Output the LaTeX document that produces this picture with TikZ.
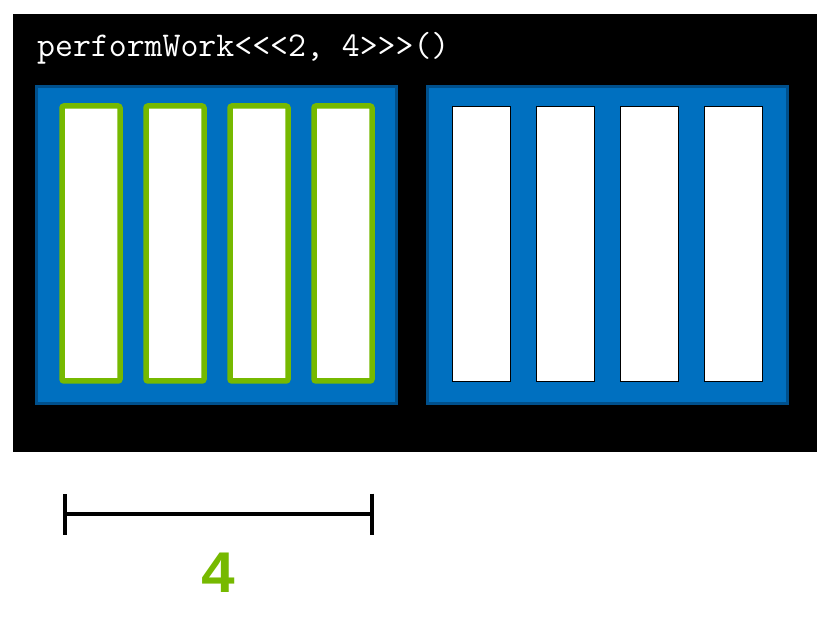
\documentclass[tikz,border=0pt]{standalone}
\usepackage{fontspec}
\newfontfamily\codefont{Liberation Mono}
\usetikzlibrary{arrows.meta, positioning}

\definecolor{gpublue}{HTML}{0070C0}
\definecolor{gpuedge}{HTML}{00508C}
\definecolor{nvgreen}{HTML}{76B900}

\begin{document}
\begin{tikzpicture}[
        x=1pt, y=-1pt,
        % Thread'ler arasi yatay mesafe
        node distance=26pt,
        block/.style={rectangle, draw=gpuedge, line width=3pt, fill=gpublue, minimum width=360pt, minimum height=317pt, inner sep=0pt, outer sep=0pt},
        thread/.style={rectangle, draw=black, line width=1pt, fill=white, minimum width=58pt, minimum height=275pt, inner sep=0pt, outer sep=0pt},
        active/.style={thread, draw=nvgreen, line width=5.5pt, rounded corners=2pt},
        code/.style={font=\ttfamily\fontsize{34.8}{35}\selectfont, text=white, inner sep=0pt},
        dim/.style={{Bar[width=41pt]}-{Bar[width=41pt]}, line width=4pt}
    ]
    \useasboundingbox (0,0) rectangle (828,620);

    % Arka plan
    \fill[black] (13,14) rectangle (817,452);

    \node (call) [code, anchor=base west] at (37,57) {performWork<<<2, 4>>>()};

    % Bloklar
    \node (blockA) [block] at (216.5,245) {};
    \node (blockB) [block] at (607,245) {};

    % Birinci blok (aktif thread'ler)
    \node (tA1) [active] at (91,243.5) {};
    \node (tA2) [active, right=of tA1] {};
    \node (tA3) [active, right=of tA2] {};
    \node (tA4) [active, right=of tA3] {};

    % Ikinci blok
    \node (tB1) [thread] at (481.5,244.5) {};
    \node (tB2) [thread, right=of tB1] {};
    \node (tB3) [thread, right=of tB2] {};
    \node (tB4) [thread, right=of tB3] {};

    % Olcu cizgisi
    \coordinate (dimL) at (63.3,514);
    \coordinate (dimR) at (374,514);
    \draw [dim] (dimL) -- (dimR);
    \node (count) [font=\codefont\fontsize{60}{60}\selectfont\bfseries, text=nvgreen, inner sep=0pt] at (218.5,572.5) {4};

\end{tikzpicture}
\end{document}
